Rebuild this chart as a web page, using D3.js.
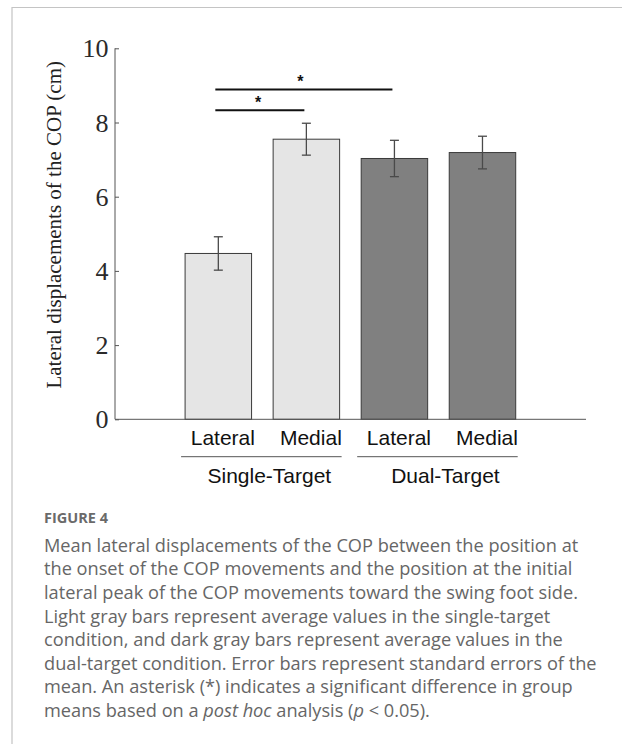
<!DOCTYPE html>
<html>
<head>
<meta charset="utf-8">
<script src="https://cdn.jsdelivr.net/npm/d3@7/dist/d3.min.js"></script>
<style>
  html, body { margin: 0; padding: 0; background: #fff; }
  svg { display: block; }
</style>
</head>
<body>
<div id="chart"></div>
<script>
// ---- data ----
const conditions = ["Lateral", "Medial", "Lateral", "Medial"];
const groups = ["Single-Target", "Dual-Target"];
const groupOf = [0, 0, 1, 1];
const means = [4.47, 7.55, 7.03, 7.19];
const sems = [0.45, 0.43, 0.49, 0.44];
const yTicks = [0, 2, 4, 6, 8, 10];
const sigPairs = [[0, 1], [0, 2]];
const sigLevels = [8.33, 8.89];
const yLabel = "Lateral displacements of the COP (cm)";
const figLabel = "FIGURE 4";
const captionLines = [
  [["Mean lateral displacements of the COP between the position at", false]],
  [["the onset of the COP movements and the position at the initial", false]],
  [["lateral peak of the COP movements toward the swing foot side.", false]],
  [["Light gray bars represent average values in the single-target", false]],
  [["condition, and dark gray bars represent average values in the", false]],
  [["dual-target condition. Error bars represent standard errors of the", false]],
  [["mean. An asterisk (*) indicates a significant difference in group", false]],
  [["means based on a ", false], ["post hoc", true], [" analysis (", false], ["p", true], [" < 0.05).", false]]
];

// ---- layout ----
const W = 622, H = 744;
const svg = d3.select("#chart").append("svg").attr("width", W).attr("height", H);

// frame
svg.append("path")
  .attr("d", `M12,${H + 2} L12,7.5 L${W + 2},7.5`)
  .attr("fill", "none").attr("stroke", "#c4c4c4").attr("stroke-width", 1.2);

const axisX0 = 115, axisX1 = 586;
const y = d3.scaleLinear().domain([0, 10]).range([419.3, 48.3]);
const idx = d3.range(means.length);
const x = d3.scaleBand().domain(idx).range([174.3, 526.5]).paddingInner(0.245).paddingOuter(0.1225);

const lightFill = "#e5e5e5", darkFill = "#808080";

// bars
svg.append("g").selectAll("rect").data(idx).join("rect")
  .attr("x", i => x(i))
  .attr("y", i => y(means[i]))
  .attr("width", x.bandwidth())
  .attr("height", i => y(0) - y(means[i]))
  .attr("fill", i => groupOf[i] === 0 ? lightFill : darkFill)
  .attr("stroke", "#3a3a3a").attr("stroke-width", 1);

// error bars
const eb = svg.append("g").attr("stroke", "#4a4a4a").attr("stroke-width", 1.3).attr("fill", "none");
idx.forEach(i => {
  const cx = x(i) + x.bandwidth() / 2;
  const top = y(means[i] + sems[i]), bot = y(means[i] - sems[i]);
  eb.append("line").attr("x1", cx).attr("x2", cx).attr("y1", top).attr("y2", bot);
  eb.append("line").attr("x1", cx - 4.5).attr("x2", cx + 4.5).attr("y1", top).attr("y2", top);
  eb.append("line").attr("x1", cx - 4.5).attr("x2", cx + 4.5).attr("y1", bot).attr("y2", bot);
});

// y axis
const yAxis = d3.axisRight(y).tickValues(yTicks).tickSize(4).tickFormat("");
const yg = svg.append("g").attr("transform", `translate(${axisX0},0)`).call(yAxis);
yg.select(".domain").remove();
yg.selectAll("line").attr("stroke", "#555");
svg.append("line").attr("x1", axisX0).attr("x2", axisX0).attr("y1", y(10)).attr("y2", y(0))
  .attr("stroke", "#555").attr("stroke-width", 1);
svg.append("g").selectAll("text").data(yTicks).join("text")
  .attr("x", 108.5).attr("y", d => y(d) + 9)
  .attr("text-anchor", "end")
  .attr("font-family", "'Liberation Serif', 'Times New Roman', serif")
  .attr("font-size", 26).attr("fill", "#2a2a2a")
  .text(d => d);

// x axis line
svg.append("line").attr("x1", axisX0).attr("x2", axisX1).attr("y1", y(0)).attr("y2", y(0))
  .attr("stroke", "#555").attr("stroke-width", 1);

// y label
svg.append("text")
  .attr("transform", `translate(61,${(y(0) + y(10)) / 2 - 9}) rotate(-90)`)
  .attr("text-anchor", "middle")
  .attr("font-family", "'Liberation Serif', 'Times New Roman', serif")
  .attr("font-size", 21).attr("fill", "#222")
  .text(yLabel);

// category labels
svg.append("g").selectAll("text").data(idx).join("text")
  .attr("x", i => x(i) + x.bandwidth() / 2 + 4.5)
  .attr("y", 445)
  .attr("text-anchor", "middle")
  .attr("font-family", "'Liberation Sans', Arial, sans-serif")
  .attr("font-size", 21).attr("fill", "#111")
  .text(i => conditions[i]);

// group lines and labels
groups.forEach((g, gi) => {
  const members = idx.filter(i => groupOf[i] === gi);
  const x0 = x(members[0]) - 4, x1 = x(members[members.length - 1]) + x.bandwidth() + 2;
  svg.append("line").attr("x1", x0).attr("x2", x1).attr("y1", 456.7).attr("y2", 456.7)
    .attr("stroke", "#555").attr("stroke-width", 1);
  svg.append("text").attr("x", (x0 + x1) / 2 + 8).attr("y", 483)
    .attr("text-anchor", "middle")
    .attr("font-family", "'Liberation Sans', Arial, sans-serif")
    .attr("font-size", 21).attr("fill", "#111")
    .text(g);
});

// significance brackets
sigPairs.forEach((p, k) => {
  const xa = x(p[0]) + x.bandwidth() / 2 - 3;
  const xb = x(p[1]) + x.bandwidth() / 2 - 2;
  const yy = y(sigLevels[k]);
  svg.append("line").attr("x1", xa).attr("x2", xb).attr("y1", yy).attr("y2", yy)
    .attr("stroke", "#111").attr("stroke-width", 2);
  svg.append("text").attr("x", xa + (xb - xa) * 0.48).attr("y", yy - 2)
    .attr("text-anchor", "middle")
    .attr("font-family", "'Liberation Sans', Arial, sans-serif")
    .attr("font-size", 16).attr("font-weight", 700).attr("fill", "#111")
    .text("*");
});

// caption
svg.append("text").attr("x", 44).attr("y", 523.3)
  .attr("font-family", "'Open Sans', 'Noto Sans', sans-serif")
  .attr("font-size", 14.5).attr("font-weight", 700).attr("fill", "#6a6a6a")
  .text(figLabel);

const cap = svg.append("text")
  .attr("font-family", "'Open Sans', 'Noto Sans', sans-serif")
  .attr("font-size", 18.2).attr("fill", "#666");
captionLines.forEach((line, li) => {
  line.forEach((seg, si) => {
    const t = cap.append("tspan").text(seg[0]);
    if (si === 0) t.attr("x", 44).attr("y", 551.7 + li * 23.6);
    if (seg[1]) t.attr("font-style", "italic");
  });
});
</script>
</body>
</html>
